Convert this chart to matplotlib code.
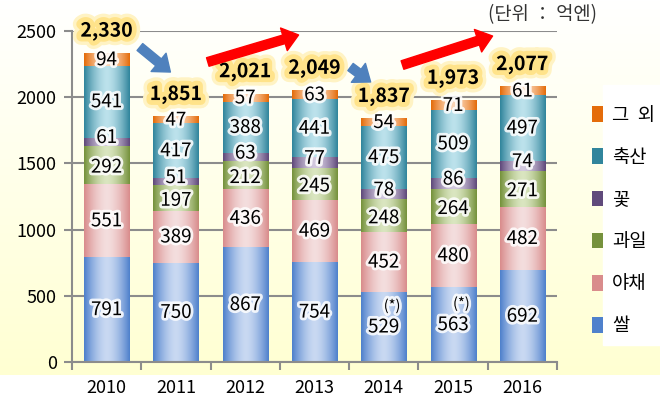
import numpy as np
import matplotlib
matplotlib.use('Agg')
import matplotlib.pyplot as plt
import matplotlib.patheffects as pe
from matplotlib.colors import to_rgb
from matplotlib.patches import Rectangle

plt.rcParams['font.family'] = ['Noto Sans CJK KR', 'DejaVu Sans']

years = ['2010', '2011', '2012', '2013', '2014', '2015', '2016']
rice = [791, 750, 867, 754, 529, 563, 692]
veg = [551, 389, 436, 469, 452, 480, 482]
fruit = [292, 197, 212, 245, 248, 264, 271]
flower = [61, 51, 63, 77, 78, 86, 74]
livestock = [541, 417, 388, 441, 475, 509, 497]
other = [94, 47, 57, 63, 54, 71, 61]
totals = [2330, 1851, 2021, 2049, 1837, 1973, 2077]
star_years = ['2014', '2015']

names = ['쌀', '야채', '과일', '꽃', '축산', '그 외']
series = [rice, veg, fruit, flower, livestock, other]
# (edge colour, centre colour) for the cylinder-like gradient
cols = [('#4F81CC', '#C9D9F2'), ('#D98C8C', '#F4DEDE'), ('#76923C', '#DAE6C0'),
        ('#604A7B', '#D2C8DE'), ('#31859C', '#BCE2EC'), ('#E46C0A', '#FCD5B5')]

fig = plt.figure(figsize=(6.6, 4.0), dpi=100)

# background: white at top fading to pale yellow
bg = fig.add_axes([0, 1 - 375 / 400, 1, 375 / 400], zorder=-5)
g = np.linspace(0, 1, 200)[:, None]
top, bot = np.array([1, 1, 1]), np.array(to_rgb('#FFFFD2'))
bg.imshow((top * (1 - g) + bot * g)[:, None, :].repeat(2, axis=1), aspect='auto', extent=[0, 1, 0, 1])
bg.axis('off')
fig.patches.append(Rectangle((603 / 660, 1 - 345 / 400), 57 / 660, 260 / 400,
                             transform=fig.transFigure, color='white', zorder=-4))

ax = fig.add_axes([72 / 660, 38 / 400, 485 / 660, 331 / 400])
ax.set_facecolor('none')
x = np.arange(len(years))
bottom = np.zeros(len(years))
u = np.abs(np.linspace(-1, 1, 64)) ** 1.6
handles = []
glow = [pe.withStroke(linewidth=4, foreground='white', alpha=0.85)]
for vals, name, (ce, cc) in zip(series, names, cols):
    bars = ax.bar(x, vals, 0.65, bottom=bottom, color=ce, label=name, zorder=2)
    handles.append(bars)
    grad = np.array(to_rgb(cc)) * (1 - u[:, None]) + np.array(to_rgb(ce)) * u[:, None]
    for p in bars.patches:
        ax.imshow(grad[None, :, :], extent=[p.get_x(), p.get_x() + p.get_width(),
                  p.get_y(), p.get_y() + p.get_height()], aspect='auto', zorder=2.5,
                  interpolation='bilinear')
    # thin segments: nudge labels apart a little
    dy = {'꽃': 3, '과일': -1.5}.get(name, 0)
    for xi, v, b in zip(x, vals, bottom):
        ax.annotate(str(v), (xi, b + v / 2), xytext=(0, dy), textcoords='offset points',
                    ha='center', va='center', fontsize=13.5, zorder=5, path_effects=glow)
        if name == '쌀' and years[xi] in star_years:
            ax.annotate('(*)', (xi, b + v / 2), xytext=(6, 15), textcoords='offset points',
                        ha='center', va='center', fontsize=10.5, zorder=5, path_effects=glow)
    bottom = bottom + np.array(vals)

yglow = [pe.Stroke(linewidth=12, foreground='#FFF3C4'),
         pe.Stroke(linewidth=7, foreground='#FFE38A'), pe.Normal()]
for xi, t, b in zip(x, totals, bottom):
    ax.annotate(f'{t:,}', (xi, b), xytext=(0, 16), textcoords='offset points',
                ha='center', va='center', fontsize=14, fontweight='bold', zorder=6,
                path_effects=yglow)

# trend arrows
arrows = [((0.48, 2379), (0.92, 2190), '#4F81BD'), ((1.46, 2266), (2.77, 2470), '#FF0000'),
          ((3.52, 2228), (3.81, 2115), '#4F81BD'), ((4.27, 2243), (5.57, 2462), '#FF0000')]
for s, e, c in arrows:
    ax.annotate('', xy=e, xytext=s, annotation_clip=False,
                arrowprops=dict(arrowstyle='simple,head_length=0.55,head_width=0.85,tail_width=0.32',
                                color=c, mutation_scale=20, shrinkA=0, shrinkB=0), zorder=6)

ax.set_xlim(-0.5, len(years) - 0.5)
ax.set_ylim(0, 2500)
ax.set_yticks(range(0, 2501, 500))
ax.set_xticks(x)
ax.set_xticklabels(years, fontsize=13)
ax.set_xticks(np.arange(-0.5, len(years), 1), minor=True)
ax.tick_params(axis='x', which='major', length=0, pad=12)
ax.tick_params(axis='x', which='minor', length=6, width=1.5, color='#8C8C8C')
ax.tick_params(axis='y', labelsize=13, length=6, width=1.5, color='#8C8C8C', pad=5)
ax.grid(axis='y', color='#8C8C8C', linewidth=1.5, zorder=0)
ax.set_axisbelow(True)
for s in ['top', 'right']:
    ax.spines[s].set_visible(False)
for s in ['left', 'bottom']:
    ax.spines[s].set_color('#8C8C8C')
    ax.spines[s].set_linewidth(1.5)

fig.text(542 / 660, 1 - 15 / 400, '(단위 ： 억엔)', ha='center', va='center', fontsize=13.5, color='#333333')

fig.legend(handles[::-1], ['그  외', '축산', '꽃', '과일', '야채', '쌀'], loc='upper left',
           bbox_to_anchor=(584 / 660, 1 - 97 / 400),
           frameon=False, fontsize=13.5, handlelength=0.6, handleheight=0.9, handletextpad=0.5,
           labelspacing=1.13, borderaxespad=0)

fig.savefig('out.png', dpi=100)
